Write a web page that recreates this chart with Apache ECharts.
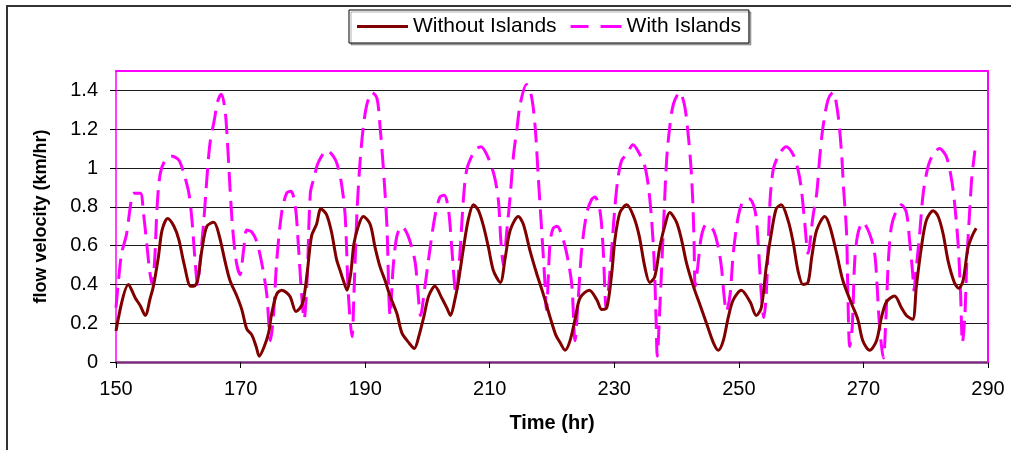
<!DOCTYPE html>
<html>
<head>
<meta charset="utf-8">
<title>Flow velocity</title>
<script src="https://cdn.jsdelivr.net/npm/echarts@6/dist/echarts.min.js"></script>
<style>
  html, body { margin: 0; padding: 0; background: #fff; }
  #chart { width: 1011px; height: 450px; }
</style>
</head>
<body>
<div id="chart"></div>
<script>
// Flow velocity (km/hr) over time (hr), with and without islands
const seriesNames = ['Without Islands', 'With Islands'];

const timeWithout = [
  150.0, 152.0, 153.1, 153.9, 154.7, 155.5, 156.0, 156.8, 157.4, 158.3, 159.3, 160.1, 160.9, 162.0, 162.5,
  163.1, 163.8, 164.6, 165.7, 166.5, 167.5, 168.3, 169.4, 170.2, 171.0, 171.8, 172.5, 173.0, 173.8, 174.5,
  175.0, 175.8, 176.6, 177.9, 178.9, 179.6, 180.1, 180.7, 181.4, 182.2, 182.9, 183.8, 184.6, 185.4, 186.0,
  186.5, 187.1, 187.7, 188.2, 188.9, 189.7, 190.8, 191.6, 192.4, 193.2, 194.0, 195.1, 195.9, 197.0, 197.9,
  198.6, 199.4, 200.2, 201.2, 202.3, 203.1, 203.7, 204.4, 205.0, 205.8, 206.6, 207.4, 208.2, 209.0, 209.8,
  210.6, 211.7, 212.5, 213.3, 214.6, 215.4, 216.5, 217.5, 218.6, 219.7, 220.6, 221.3, 222.1, 222.9, 223.7,
  224.5, 226.0, 227.2, 228.0, 228.8, 229.6, 230.1, 230.9, 232.0, 233.1, 234.0, 234.9, 235.7, 236.5, 237.3,
  238.1, 238.9, 240.0, 240.8, 241.6, 242.7, 243.7, 244.8, 245.9, 246.7, 247.5, 248.3, 249.1, 250.4, 251.8,
  252.8, 253.6, 254.4, 255.2, 256.0, 256.8, 257.9, 258.7, 259.5, 260.3, 261.1, 261.7, 262.5, 263.8, 264.6,
  265.7, 266.7, 268.1, 269.1, 269.9, 271.0, 272.1, 272.9, 273.7, 275.0, 276.1, 276.9, 277.9, 278.5, 279.3,
  280.1, 281.2, 282.0, 282.8, 283.6, 284.6, 285.3, 286.0, 286.8, 287.6, 288.1
];
const velocityWithout = [
  0.16, 0.40, 0.33, 0.29, 0.24, 0.33, 0.39, 0.54, 0.68, 0.74, 0.70, 0.63, 0.51, 0.39, 0.39,
  0.42, 0.58, 0.70, 0.72, 0.66, 0.52, 0.42, 0.34, 0.27, 0.17, 0.14, 0.08, 0.03, 0.08, 0.15,
  0.25, 0.35, 0.37, 0.34, 0.26, 0.28, 0.32, 0.46, 0.65, 0.71, 0.79, 0.76, 0.67, 0.53, 0.47,
  0.42, 0.37, 0.46, 0.61, 0.70, 0.75, 0.71, 0.59, 0.49, 0.42, 0.34, 0.25, 0.15, 0.10, 0.07,
  0.13, 0.23, 0.34, 0.39, 0.33, 0.28, 0.24, 0.32, 0.42, 0.59, 0.74, 0.81, 0.78, 0.70, 0.59,
  0.47, 0.41, 0.54, 0.68, 0.75, 0.71, 0.57, 0.46, 0.35, 0.23, 0.14, 0.10, 0.06, 0.11, 0.22,
  0.33, 0.37, 0.32, 0.27, 0.28, 0.46, 0.63, 0.77, 0.81, 0.75, 0.65, 0.49, 0.41, 0.44, 0.59,
  0.70, 0.77, 0.72, 0.63, 0.51, 0.39, 0.30, 0.20, 0.10, 0.06, 0.11, 0.23, 0.32, 0.37, 0.31,
  0.24, 0.28, 0.49, 0.66, 0.79, 0.81, 0.73, 0.62, 0.47, 0.40, 0.41, 0.54, 0.68, 0.75, 0.70,
  0.56, 0.42, 0.30, 0.22, 0.11, 0.06, 0.11, 0.23, 0.31, 0.34, 0.28, 0.24, 0.22, 0.39, 0.59,
  0.73, 0.78, 0.75, 0.66, 0.52, 0.41, 0.38, 0.42, 0.59, 0.66, 0.69
];

const timeWith = [
  150.0, 150.4, 150.9, 151.7, 152.3, 152.8, 153.9, 154.4, 155.0, 155.4, 155.8, 156.2, 156.6, 157.1, 157.9,
  159.0, 160.1, 160.9, 161.7, 162.2, 162.7, 163.1, 163.5, 164.1, 164.6, 165.1, 165.8, 166.3, 166.9, 167.5,
  167.9, 168.3, 168.7, 169.3, 169.9, 170.5, 171.0, 171.8, 172.6, 173.4, 174.2, 174.8, 175.3, 175.8, 176.6,
  177.4, 178.1, 178.8, 179.3, 179.8, 180.2, 180.7, 181.2, 181.8, 182.5, 183.9, 184.9, 185.5, 186.2, 186.8,
  187.3, 187.9, 188.2, 188.7, 189.2, 189.7, 190.3, 191.1, 191.9, 192.4, 192.9, 193.5, 193.8, 194.0, 194.5,
  195.1, 195.9, 196.9, 198.0, 198.4, 198.9, 199.6, 200.4, 201.2, 202.0, 202.7, 203.4, 203.9, 204.6, 205.2,
  205.8, 206.3, 207.1, 207.9, 208.6, 209.8, 210.8, 211.4, 211.8, 212.2, 212.7, 213.3, 213.8, 214.4, 214.9,
  215.9, 216.7, 217.3, 217.8, 218.3, 218.9, 219.1, 219.7, 220.2, 220.8, 221.8, 222.6, 223.2, 223.7, 224.2,
  224.8, 225.6, 226.4, 226.9, 227.7, 228.2, 228.7, 229.0, 229.6, 230.1, 230.6, 231.2, 232.0, 233.0, 234.1,
  234.9, 235.5, 236.0, 236.4, 236.7, 236.9, 237.3, 237.9, 238.4, 238.9, 239.5, 240.5, 241.3, 241.9, 242.3,
  242.6, 242.8, 243.0, 243.5, 244.0, 244.8, 245.9, 246.7, 247.2, 247.6, 248.0, 248.6, 249.1, 249.9, 250.7,
  251.7, 252.6, 253.1, 253.6, 254.0, 254.4, 255.0, 255.5, 256.0, 256.4, 257.6, 258.7, 259.5, 260.0, 260.6,
  261.1, 261.9, 262.5, 263.0, 263.5, 264.3, 265.1, 265.9, 266.5, 266.8, 267.3, 267.5, 267.8, 268.2, 268.6,
  269.1, 269.9, 271.0, 271.8, 272.2, 272.6, 273.2, 273.6, 274.0, 274.5, 275.3, 276.1, 276.9, 277.4, 277.9,
  278.1, 278.5, 279.0, 279.6, 280.4, 281.2, 282.2, 283.3, 284.1, 284.6, 285.2, 285.6, 285.9, 286.3, 286.6,
  287.1, 287.4, 287.9
];
const velocityWith = [
  0.28, 0.42, 0.56, 0.66, 0.80, 0.87, 0.87, 0.77, 0.59, 0.47, 0.40, 0.52, 0.80, 0.97, 1.04,
  1.06, 1.04, 0.97, 0.87, 0.73, 0.52, 0.40, 0.52, 0.73, 0.95, 1.13, 1.25, 1.34, 1.38, 1.30,
  1.13, 0.90, 0.70, 0.52, 0.45, 0.58, 0.68, 0.67, 0.62, 0.51, 0.35, 0.11, 0.25, 0.52, 0.77,
  0.87, 0.88, 0.80, 0.59, 0.35, 0.22, 0.44, 0.87, 0.95, 1.03, 1.09, 1.06, 1.02, 0.92, 0.75,
  0.35, 0.13, 0.35, 0.78, 1.04, 1.21, 1.33, 1.39, 1.36, 1.21, 1.01, 0.70, 0.35, 0.24, 0.49,
  0.65, 0.70, 0.65, 0.52, 0.39, 0.24, 0.39, 0.58, 0.75, 0.85, 0.86, 0.78, 0.59, 0.35, 0.55,
  0.85, 0.99, 1.06, 1.10, 1.11, 1.05, 0.95, 0.83, 0.62, 0.50, 0.66, 0.86, 1.06, 1.21, 1.33,
  1.43, 1.37, 1.21, 0.95, 0.70, 0.39, 0.27, 0.62, 0.69, 0.70, 0.63, 0.52, 0.39, 0.11, 0.32,
  0.59, 0.77, 0.84, 0.85, 0.78, 0.59, 0.28, 0.35, 0.59, 0.80, 0.95, 1.04, 1.07, 1.12, 1.07,
  1.01, 0.90, 0.73, 0.52, 0.23, 0.03, 0.27, 0.70, 1.04, 1.21, 1.33, 1.39, 1.32, 1.16, 1.01,
  0.83, 0.63, 0.39, 0.52, 0.65, 0.71, 0.68, 0.59, 0.49, 0.35, 0.26, 0.35, 0.56, 0.75, 0.83,
  0.84, 0.78, 0.61, 0.35, 0.23, 0.35, 0.83, 0.99, 1.04, 1.07, 1.11, 1.07, 0.99, 0.90, 0.71,
  0.56, 0.75, 0.87, 1.06, 1.21, 1.35, 1.39, 1.28, 1.07, 0.90, 0.66, 0.35, 0.08, 0.18, 0.52,
  0.66, 0.72, 0.66, 0.56, 0.39, 0.18, 0.02, 0.22, 0.52, 0.70, 0.78, 0.81, 0.77, 0.63, 0.46,
  0.37, 0.49, 0.65, 0.87, 1.01, 1.07, 1.10, 1.06, 0.95, 0.83, 0.61, 0.35, 0.10, 0.25, 0.52,
  0.80, 0.95, 1.09
];

const yTickValues = [0, 0.2, 0.4, 0.6, 0.8, 1, 1.2, 1.4];
const xTickStep = 20;

const FONT = '"Liberation Sans", Arial, sans-serif';

// Legend keys: a plain bar for the solid line, two bars for the dashed one
const legendIcons = [
  'path://M0,0H51V3H0Z',
  'path://M0,0H18V3H0Z M30,0H51V3H30Z'
];

function pairs(xs, ys) {
  return xs.map((x, i) => [x, ys[i]]);
}

const chart = echarts.init(document.getElementById('chart'), null, { renderer: 'canvas' });

const xRange = { min: 150, max: 290 };
const yRange = { min: 0, max: 1.5 };

chart.setOption({
  animation: false,
  backgroundColor: '#ffffff',
  textStyle: { fontFamily: FONT, color: '#000' },
  graphic: [{
    type: 'rect',
    silent: true,
    shape: { x: 7, y: 6, width: 1100, height: 600 },
    style: { fill: 'none', stroke: '#333333', lineWidth: 2 }
  }],
  legend: {
    left: 349,
    top: 10,
    padding: [6, 8],
    itemGap: 14,
    itemWidth: 51,
    itemHeight: 3,
    borderColor: '#000',
    borderWidth: 1,
    borderRadius: 0,
    backgroundColor: '#fff',
    shadowColor: 'rgba(0,0,0,0.3)',
    shadowOffsetX: 2,
    shadowOffsetY: 2,
    shadowBlur: 0,
    textStyle: { fontFamily: FONT, fontSize: 21, color: '#000', lineHeight: 20 },
    data: seriesNames.map((name, i) => ({ name: name, icon: legendIcons[i] }))
  },
  grid: { left: 116, right: 23, top: 71, bottom: 88, show: false },
  xAxis: [{
    type: 'value',
    min: xRange.min, max: xRange.max, interval: xTickStep,
    name: 'Time (hr)',
    nameLocation: 'middle',
    nameGap: 51,
    nameTextStyle: { fontFamily: FONT, fontSize: 20, fontWeight: 'bold', color: '#000' },
    axisLine: { show: true, onZero: false, lineStyle: { color: '#7a2a7a', width: 2.5 } },
    axisTick: { show: true, length: 6, lineStyle: { color: '#000', width: 1 } },
    axisLabel: { margin: 17, fontFamily: FONT, fontSize: 20, color: '#000' },
    splitLine: { show: false }
  }, {
    type: 'value',
    position: 'top',
    min: xRange.min, max: xRange.max, interval: xTickStep,
    axisLine: { show: true, onZero: false, lineStyle: { color: '#ff00ff', width: 2 } },
    axisTick: { show: false },
    axisLabel: { show: false },
    splitLine: { show: false },
    z: 5
  }],
  yAxis: [{
    type: 'value',
    min: yRange.min, max: yRange.max, interval: 0.2,
    name: 'flow velocity (km/hr)',
    nameLocation: 'middle',
    nameGap: 66,
    nameRotate: 90,
    nameTextStyle: { fontFamily: FONT, fontSize: 18, fontWeight: 'bold', color: '#000' },
    axisLine: { show: true, onZero: false, lineStyle: { color: '#ff00ff', width: 1.5 } },
    axisTick: { show: true, length: 6, customValues: yTickValues, lineStyle: { color: '#000', width: 1 } },
    axisLabel: { margin: 18, customValues: yTickValues, fontFamily: FONT, fontSize: 20, color: '#000' },
    splitLine: { show: true, lineStyle: { color: '#1a1a1a', width: 1 } }
  }, {
    type: 'value',
    position: 'right',
    min: yRange.min, max: yRange.max, interval: 0.2,
    axisLine: { show: true, onZero: false, lineStyle: { color: '#ff00ff', width: 2 } },
    axisTick: { show: false },
    axisLabel: { show: false },
    splitLine: { show: false },
    z: 5
  }],
  series: [{
    name: seriesNames[0],
    type: 'line',
    xAxisIndex: 0,
    yAxisIndex: 0,
    data: pairs(timeWithout, velocityWithout),
    symbol: 'none',
    smooth: 0.3,
    itemStyle: { color: '#800000' },
    lineStyle: { color: '#800000', width: 3 },
    z: 3
  }, {
    name: seriesNames[1],
    type: 'line',
    xAxisIndex: 0,
    yAxisIndex: 0,
    data: pairs(timeWith, velocityWith),
    symbol: 'none',
    smooth: 0.3,
    itemStyle: { color: '#ff00ff' },
    lineStyle: { color: '#ff00ff', width: 3, type: [20, 9] },
    z: 2
  }]
});
</script>
</body>
</html>
